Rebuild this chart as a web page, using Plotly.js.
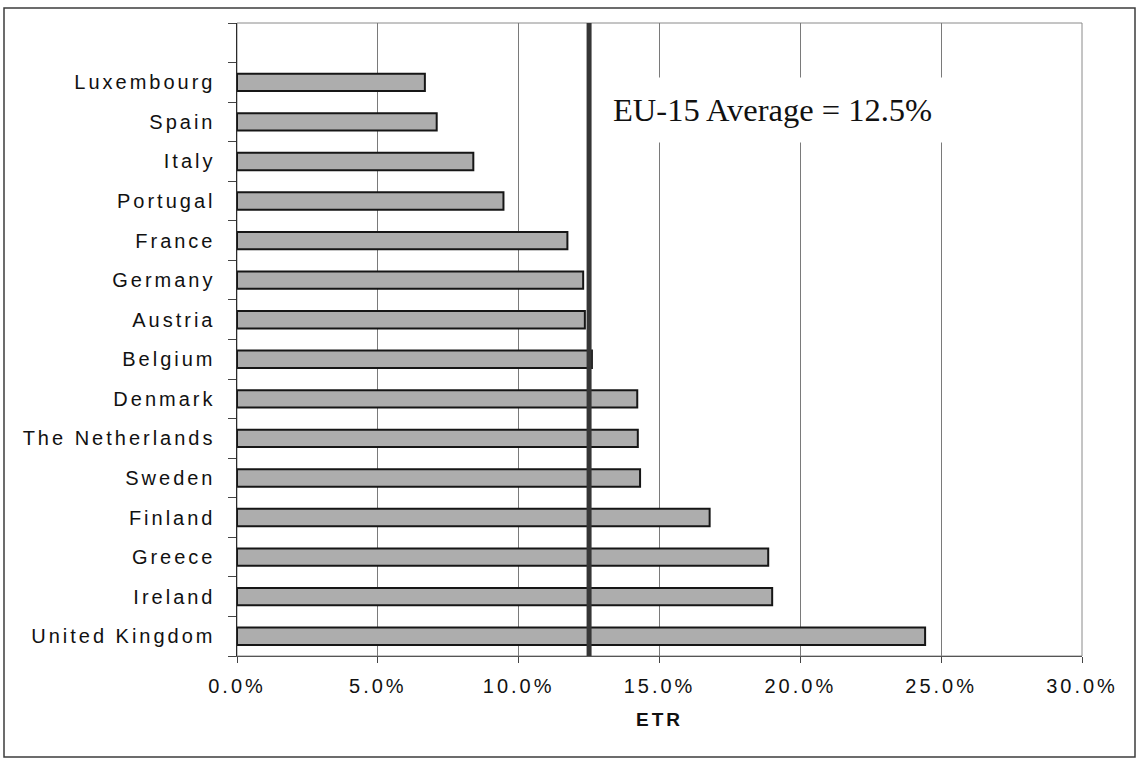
<!DOCTYPE html>
<html>
<head>
<meta charset="utf-8">
<script src="https://cdn.plot.ly/plotly-3.0.1.min.js"></script>
<style>
  html, body { margin: 0; padding: 0; background: #fff; }
  #chart { width: 1138px; height: 759px; }
  /* wide-set sans labels */
  .xtick text, .ytick text, .g-xtitle text { letter-spacing: 3px; }
</style>
</head>
<body>
<div id="chart"></div>
<script>
// Effective tax rate by EU-15 member state (%), listed top to bottom
const countries = [
  'Luxembourg', 'Spain', 'Italy', 'Portugal', 'France', 'Germany', 'Austria',
  'Belgium', 'Denmark', 'The Netherlands', 'Sweden', 'Finland', 'Greece',
  'Ireland', 'United Kingdom'
];
const etrValues = [
  6.67, 7.09, 8.39, 9.46, 11.73, 12.29, 12.35,
  12.6, 14.21, 14.23, 14.31, 16.78, 18.86,
  19.0, 24.43
];
const euAverage = 12.5;
const xTickValues = [0, 5, 10, 15, 20, 25, 30];

// Bottom-up slot positions: United Kingdom at 0, Luxembourg at 14, one empty slot above
const n = countries.length;
const slotPos = countries.map((c, i) => n - 1 - i);

const bars = {
  type: 'bar',
  orientation: 'h',
  x: etrValues,
  y: slotPos,
  width: 0.44,
  marker: {
    color: '#adadad',
    line: { color: '#161616', width: 2 }
  },
  hoverinfo: 'skip',
  showlegend: false
};

const layout = {
  width: 1138,
  height: 759,
  margin: { l: 237, r: 56, t: 23, b: 103 },
  paper_bgcolor: '#ffffff',
  plot_bgcolor: '#ffffff',
  font: { family: 'Liberation Sans, Arial, sans-serif', size: 20, color: '#111' },
  bargap: 0.5,
  xaxis: {
    range: [0, 30],
    tickvals: xTickValues,
    ticktext: xTickValues.map(v => v.toFixed(1) + '%'),
    ticks: 'outside',
    ticklen: 6,
    tickwidth: 1,
    tickcolor: '#444',
    ticklabelstandoff: 6,
    showgrid: true,
    gridcolor: '#7a7a7a',
    gridwidth: 1,
    zeroline: false,
    showline: true,
    linecolor: '#555',
    linewidth: 1,
    tickfont: { size: 20, color: '#111' },
    title: {
      text: 'ETR',
      font: { size: 19, weight: 'bold', color: '#111' },
      standoff: 16
    },
    fixedrange: true
  },
  yaxis: {
    range: [-0.5, n + 0.5],
    tickmode: 'array',
    tickvals: slotPos,
    ticktext: countries,
    ticks: '',
    ticklabelstandoff: 16,
    minor: {
      tick0: 0.5,
      dtick: 1,
      ticks: 'outside',
      ticklen: 8,
      tickwidth: 1,
      tickcolor: '#444',
      showgrid: false
    },
    showgrid: false,
    zeroline: false,
    showline: true,
    linecolor: '#2a2a2a',
    linewidth: 1.5,
    tickfont: { size: 20, color: '#111' },
    fixedrange: true
  },
  shapes: [
    // plot-area border
    {
      type: 'rect', xref: 'paper', yref: 'paper',
      x0: 0, x1: 1, y0: 0, y1: 1,
      line: { color: '#8a8a8a', width: 1 },
      layer: 'below'
    },
    // EU-15 average marker line
    {
      type: 'line', xref: 'x', yref: 'paper',
      x0: euAverage, x1: euAverage, y0: 0, y1: 1,
      line: { color: '#363636', width: 5 },
      layer: 'above'
    },
    // outer chart frame
    {
      type: 'rect', xref: 'paper', yref: 'paper',
      x0: (4 - 237) / 845, x1: (1135 - 237) / 845,
      y0: (656 - 757) / 633, y1: (656 - 8) / 633,
      line: { color: '#3c3c3c', width: 1.5 },
      layer: 'above'
    }
  ],
  annotations: [
    {
      xref: 'x', yref: 'paper',
      x: 19.0, y: 0.862,
      xanchor: 'center', yanchor: 'middle',
      text: 'EU-15 Average = ' + euAverage + '%',
      showarrow: false,
      font: { family: 'Liberation Serif, Times New Roman, serif', size: 32.5, color: '#111' },
      bgcolor: '#ffffff',
      borderpad: 14
    }
  ]
};

Plotly.newPlot('chart', [bars], layout, { displayModeBar: false, staticPlot: true });
</script>
</body>
</html>
